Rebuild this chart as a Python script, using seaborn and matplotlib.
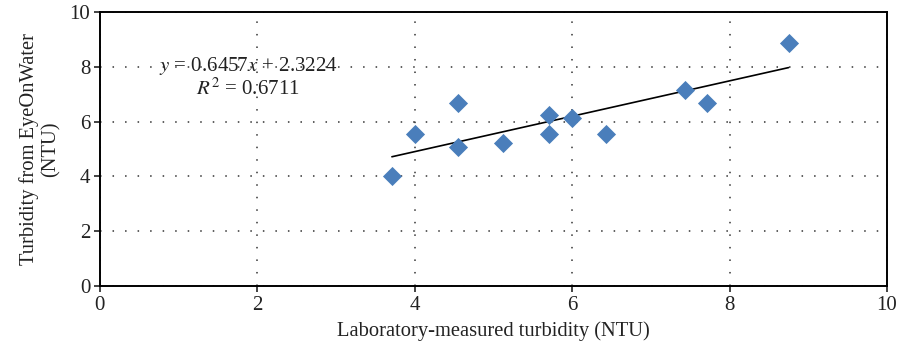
import matplotlib
matplotlib.use("Agg")
import matplotlib.pyplot as plt
import numpy as np
import pandas as pd
import seaborn as sns

# Paired turbidity readings (NTU)
lab_ntu = [3.71, 4.00, 4.55, 4.55, 5.12, 5.71, 5.71, 6.00, 6.43, 7.43, 7.71, 8.75]
app_ntu = [4.01, 5.55, 6.68, 5.07, 5.23, 6.25, 5.54, 6.15, 5.54, 7.16, 6.69, 8.86]

# Linear trend reported for the data
slope = 0.6457
intercept = 2.3224
r_squared = 0.6711

x_ticks = [0, 2, 4, 6, 8, 10]
y_ticks = [0, 2, 4, 6, 8, 10]

sns.set_theme(style="ticks")
plt.rcParams["font.family"] = ["Liberation Serif", "DejaVu Serif"]
plt.rcParams["mathtext.fontset"] = "stix"

df = pd.DataFrame({"lab": lab_ntu, "app": app_ntu})

fig = plt.figure(figsize=(9.0, 3.54), dpi=100)
ax = fig.add_axes([0.111, 0.192, 0.8745, 0.774])

sns.scatterplot(data=df, x="lab", y="app", ax=ax, marker="D", s=95,
                color="#4a7ebb", linewidth=0, zorder=3)

x_fit = np.array([min(lab_ntu), max(lab_ntu)])
trend = pd.DataFrame({"x": x_fit, "y": slope * x_fit + intercept})
sns.lineplot(data=trend, x="x", y="y", ax=ax, color="black", linewidth=1.2, zorder=2)

ax.set_xlim(0, 10)
ax.set_ylim(0, 10)
ax.set_xticks(x_ticks)
ax.set_yticks(y_ticks)
ax.grid(True, color="#333333", linestyle=(0, (1, 7.2)), linewidth=1.1)
ax.set_axisbelow(True)
for sp in ax.spines.values():
    sp.set_visible(True)
    sp.set_color("black")
    sp.set_linewidth(1.4)
ax.tick_params(axis="both", direction="out", length=4, width=1.2,
               labelsize=15, colors="#222222", pad=3)

ax.set_xlabel("Laboratory-measured turbidity (NTU)", fontsize=14.8, color="#222222", labelpad=5)
ax.set_ylabel("Turbidity from EyeOnWater\n(NTU)", fontsize=14.8, color="#222222",
              labelpad=6, linespacing=1.2)

ax.text(1.88, 8.04, rf"$y$ = {slope:.4f}$x$ + {intercept:.4f}", ha="center", va="center",
        fontsize=15, color="#222222")
ax.text(1.88, 7.2, rf"$R^2$ = {r_squared:.4f}", ha="center", va="center",
        fontsize=15, color="#222222")

fig.savefig("out.png", dpi=100)
